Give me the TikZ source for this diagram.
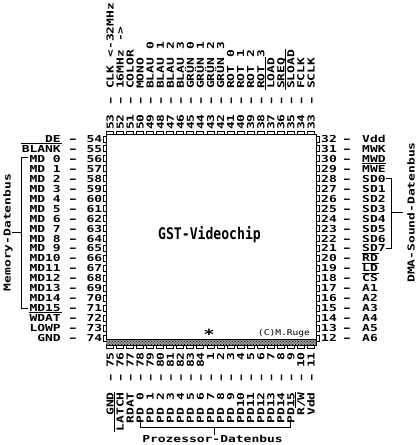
\documentclass[tikz,border=0pt]{standalone}
\usepackage{fontspec}
\usetikzlibrary{patterns}
\newfontfamily\pinfont[FakeStretch=1.35]{DejaVu Sans Mono Bold}
\newfontfamily\smallpin[FakeStretch=1.2]{DejaVu Sans Mono}
\newfontfamily\titlefont[FakeStretch=0.82]{DejaVu Sans Mono Bold}
\tikzset{
  lab/.style={font=\pinfont\fontsize{9.6}{10}\selectfont,inner sep=0pt,text height=7pt,text depth=0pt},
  dashlab/.style={lab,xscale=1.45},
  titlelab/.style={font=\titlefont\fontsize{16}{18}\selectfont,inner sep=0pt},
  starlab/.style={font=\pinfont\fontsize{14}{14}\selectfont,inner sep=0pt},
  smalllab/.style={font=\smallpin\fontsize{8}{9}\selectfont,inner sep=0pt},
  wire/.style={line width=1pt,line cap=rect},
  pinbox/.style={draw,line width=1pt,fill=white,minimum width=0pt,inner sep=0pt}
}
\begin{document}
\begin{tikzpicture}[x=1pt,y=-1pt]
\useasboundingbox (0,0) rectangle (418,445);
% pins
\foreach \i in {0,...,20}{
  \pgfmathsetmacro\yy{139+9.95*\i}
  \draw[pinbox] (103,\yy-3) rectangle (106,\yy+3);
  \draw[pinbox] (316,\yy-3) rectangle (319,\yy+3);
  \pgfmathsetmacro\xx{110+10.05*\i}
  \draw[pinbox] (\xx-3.5,131) rectangle (\xx+3.5,134);
  \draw[pinbox] (\xx-3.5,345) rectangle (\xx+3.5,348);
}
% chip
\node[draw,line width=1pt,minimum width=210pt,minimum height=211pt,inner sep=0pt,anchor=north west] (chip) at (106,134) {};
\fill[black!40] (106,339) rectangle (316,345);
\fill[pattern=crosshatch dots,pattern color=black] (106,339) rectangle (316,345);
\draw[line width=1pt] (106,339) -- (316,339);
\node[titlelab] (title) at (209.5,235) {GST-Videochip};
\node[starlab] (star) at (209,334) {*};
\node[smalllab] (copy) at (284,333) {(C)M.Ruge};
% left column
\foreach \n/\t [count=\i from 0] in {54/DE,55/BLANK,56/MD 0,57/MD 1,58/MD 2,59/MD 3,60/MD 4,61/MD 5,62/MD 6,63/MD 7,64/MD 8,65/MD 9,66/MD10,67/MD11,68/MD12,69/MD13,70/MD14,71/MD15,72/WDAT,73/LOWP,74/GND}{
  \pgfmathsetmacro\yy{139+9.95*\i}
  \node[lab,anchor=east] (L\n) at (61,\yy) {\t};
  \node[dashlab] at (73,\yy) {-};
  \node[lab,anchor=east] (LN\n) at (102.5,\yy) {\n};
}
% right column
\foreach \n/\t [count=\i from 0] in {32/Vdd,31/MWK,30/MWD,29/MWE,28/SD0,27/SD1,26/SD2,25/SD3,24/SD4,23/SD5,22/SD6,21/SD7,20/RD,19/LD,18/CS,17/A1,16/A2,15/A3,14/A4,13/A5,12/A6}{
  \pgfmathsetmacro\yy{139+9.95*\i}
  \node[lab,anchor=west] (R\n) at (362,\yy) {\t};
  \node[dashlab] at (347,\yy) {-};
  \node[lab,anchor=west] (RN\n) at (321,\yy) {\n};
}
% top column
\foreach \n/\t [count=\i from 0] in {53/CLK <-32MHz,52/16MHz ->,51/COLOR,50/MONO,49/BLAU 0,48/BLAU 1,47/BLAU 2,46/BLAU 3,45/GRÜN 0,44/GRÜN 1,43/GRÜN 2,42/GRÜN 3,41/ROT 0,40/ROT 1,39/ROT 2,38/ROT 3,37/LOAD,36/SREQ,35/SLOAD,34/FCLK,33/SCLK}{
  \pgfmathsetmacro\xx{110+10.05*\i}
  \node[lab,rotate=90,anchor=west] (T\n) at (\xx,89) {\t};
  \node[rotate=90,dashlab] at (\xx,101) {-};
  \node[lab,rotate=90,anchor=west] (TN\n) at (\xx,130) {\n};
}
% bottom column
\foreach \n/\t [count=\i from 0] in {75/GND,76/LATCH,77/RDAT,78/PD 0,79/PD 1,80/PD 2,81/PD 3,82/PD 4,83/PD 5,84/PD 6,1/PD 7,2/PD 8,3/PD 9,4/PD10,5/PD11,6/PD12,7/PD13,8/PD14,9/PD15,10/{R/W},11/Vdd}{
  \pgfmathsetmacro\xx{110+10.05*\i}
  \node[lab,rotate=90,anchor=east] (B\n) at (\xx,392) {\t};
  \node[rotate=90,dashlab] at (\xx,378) {-};
  \node[lab,rotate=90,anchor=east] (BN\n) at (\xx,352) {\n};
}
% overlines
\draw[wire] ([yshift=1.8pt]L55.north west) -- ([yshift=1.8pt]L55.north east);
\draw[wire] ([yshift=1.8pt]L72.north west) -- ([yshift=1.8pt]L72.north east);
\draw[wire] ([yshift=1.5pt]R29.north west) -- ([yshift=1.5pt]R29.north east);
\draw[wire] ([yshift=1.5pt]R20.north west) -- ([yshift=1.5pt]R20.north east);
\draw[wire] ([yshift=1.5pt]R19.north west) -- ([yshift=1.5pt]R19.north east);
\draw[wire] ([yshift=1.5pt]R18.north west) -- ([yshift=1.5pt]R18.north east);
\draw[wire] ([xshift=-1.5pt]T37.north west) -- ([xshift=-1.5pt]T37.north east);
\draw[wire] ([xshift=-1.5pt]T35.north west) -- ([xshift=-1.5pt]T35.north east);
\draw[wire] ([xshift=-1.5pt]B76.north west) -- ([xshift=-1.5pt]B76.north east);
\draw[wire] ([xshift=-1.5pt]B10.north east) -- ++(0,15);
% brackets and bus labels
\coordinate (mt) at (27,157.5);
\coordinate (mb) at (27,308);
\coordinate (mm) at (12,232.7);
\node[lab,rotate=90] (membus) at (7,232.5) {Memory-Datenbus};
\draw[wire] (mt) -- (21,157.5) -- (21,308) -- (mb);
\draw[wire] (21,232.7) -- (mm);
\coordinate (st) at (386,178.7);
\coordinate (sb) at (386,248.5);
\coordinate (sm) at (402,212.7);
\node[lab,rotate=90] (dmabus) at (411,212.5) {DMA-Sound-Datenbus};
\draw[wire] (st) -- (391,178.7) -- (391,248.5) -- (sb);
\draw[wire] (391,212.7) -- (sm);
\coordinate (pl) at (140,422);
\coordinate (pr) at (290,422);
\coordinate (pm) at (214,434);
\node[lab] (procbus) at (212.5,439) {Prozessor-Datenbus};
\draw[wire] (pl) -- (140,427) -- (290,427) -- (pr);
\draw[wire] (214,427) -- (pm);
\end{tikzpicture}
\end{document}
